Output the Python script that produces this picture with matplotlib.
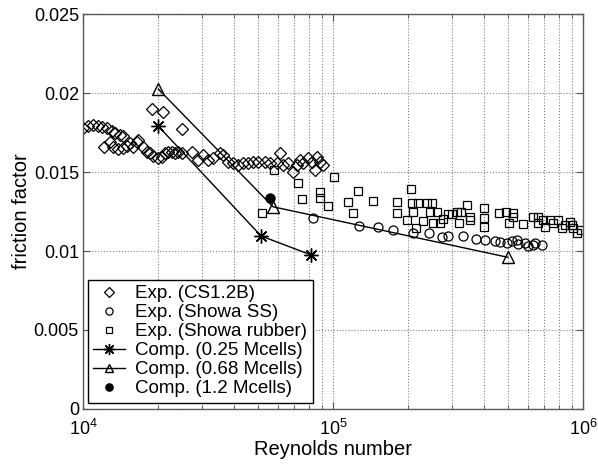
import numpy as np
import matplotlib
matplotlib.use('Agg')
import matplotlib.pyplot as plt
from matplotlib.ticker import FixedLocator, FuncFormatter

plt.rcParams['font.family'] = ['Liberation Sans', 'DejaVu Sans']
plt.rcParams['mathtext.default'] = 'regular'

# Exp. (CS1.2B)
reCS = [1.00e4, 1.047e4, 1.096e4, 1.148e4, 1.19e4, 1.25e4, 1.31e4, 1.34e4, 1.41e4, 1.45e4,
	1.21e4, 1.28e4, 1.32e4, 1.38e4, 1.45e4, 1.50e4, 1.54e4, 1.585e4, 1.64e4, 1.66e4,
	1.74e4, 1.80e4, 1.85e4, 1.905e4, 2.0e4, 2.07e4, 2.13e4, 2.19e4, 2.27e4, 2.33e4,
	2.40e4, 2.49e4, 1.89e4, 2.09e4, 2.49e4,
	2.73e4, 2.88e4, 3.02e4, 3.16e4, 3.31e4, 3.53e4, 3.63e4, 3.80e4, 3.98e4, 4.17e4,
	4.37e4, 4.57e4, 4.79e4, 5.01e4, 5.35e4, 5.60e4, 5.97e4, 6.14e4, 6.31e4, 6.61e4,
	6.92e4, 7.18e4, 7.38e4, 7.59e4, 7.94e4, 8.24e4, 8.47e4, 8.63e4, 8.87e4, 9.12e4]
fCS = [0.01778, 0.01791, 0.01797, 0.01791, 0.01785, 0.01778, 0.0176, 0.01747, 0.01734, 0.01728,
	0.01658, 0.0169, 0.01658, 0.01646, 0.01652, 0.01665, 0.01684, 0.01658, 0.0169, 0.01703,
	0.01658, 0.01627, 0.0162, 0.01601, 0.01589, 0.01595, 0.0162, 0.01627, 0.01627, 0.0162,
	0.01627, 0.0162, 0.0190, 0.0188, 0.01772,
	0.01627, 0.01576, 0.01608, 0.01576, 0.01589, 0.0162, 0.01608, 0.01563, 0.01557, 0.01544,
	0.01557, 0.01557, 0.01563, 0.01563, 0.01563, 0.01557, 0.01557, 0.0162, 0.01544, 0.01557,
	0.015, 0.01544, 0.01576, 0.01557, 0.01589, 0.01563, 0.01513, 0.01595, 0.01563, 0.01544]

# Exp. (Showa SS)
reSS = [8.32e4, 1.27e5, 1.514e5, 1.738e5, 2.09e5, 2.42e5, 2.73e5, 2.88e5, 3.31e5, 3.73e5,
	4.06e5, 4.45e5, 4.66e5, 4.97e5, 5.20e5, 5.45e5, 5.50e5, 5.86e5, 6.03e5, 6.31e5,
	6.43e5, 6.85e5]
fSS = [0.01209, 0.01158, 0.01152, 0.01133, 0.01114, 0.01114, 0.01089, 0.01095, 0.01095, 0.01076,
	0.0107, 0.01063, 0.01057, 0.01051, 0.01063, 0.0107, 0.01044, 0.01051, 0.01032, 0.01038,
	0.01051, 0.01038]

# Exp. (Showa rubber)
reRubber = [5.20e4, 5.81e4, 7.24e4, 7.52e4, 8.87e4, 8.87e4, 9.55e4, 1.009e5, 1.148e5, 1.202e5,
	1.259e5, 1.445e5, 1.80e5, 1.80e5, 1.977e5, 2.05e5, 2.07e5, 2.09e5, 2.19e5, 2.14e5,
	2.29e5, 2.38e5, 2.44e5, 2.49e5, 2.51e5, 2.61e5, 2.68e5, 2.75e5, 2.88e5, 2.99e5,
	3.13e5, 3.25e5, 3.19e5, 3.44e5, 3.53e5, 3.53e5, 4.02e5, 4.02e5, 4.02e5, 4.61e5,
	4.92e5, 5.25e5, 5.25e5, 5.06e5, 5.75e5, 6.31e5, 6.61e5, 6.61e5, 6.92e5, 7.05e5,
	7.38e5, 7.59e5, 7.94e5, 8.24e5, 8.47e5, 8.87e5, 9.04e5, 9.12e5, 9.46e5, 9.82e5]
fRubber = [0.0124, 0.01513, 0.0143, 0.01329, 0.01373, 0.01335, 0.01285, 0.01468, 0.0131, 0.0124,
	0.0138, 0.01316, 0.0131, 0.0124, 0.01196, 0.01392, 0.01304, 0.01247, 0.01304, 0.01146,
	0.0119, 0.01304, 0.01247, 0.01304, 0.01177, 0.01247, 0.01177, 0.01203, 0.01234, 0.01234,
	0.01247, 0.01247, 0.01177, 0.01291, 0.01215, 0.01196, 0.01272, 0.01209, 0.01152, 0.0124,
	0.01247, 0.0124, 0.01215, 0.01177, 0.01171, 0.01215, 0.01215, 0.01177, 0.01196, 0.01152,
	0.01196, 0.01177, 0.01196, 0.01146, 0.01165, 0.01184, 0.01165, 0.01146, 0.01114, 0.01133]

# computations
reComp025 = [2.0e4, 5.15e4, 8.17e4]
fComp025 = [0.0179, 0.01095, 0.00975]
reComp068 = [2.0e4, 5.75e4, 5.01e5]
fComp068 = [0.02025, 0.0128, 0.0096]
reComp12 = [5.6e4]
fComp12 = [0.01335]

fig = plt.figure(figsize=(5.98, 4.69), dpi=100)
ax = fig.add_axes([0.139, 0.128, 0.836, 0.842])

ax.plot(reCS, fCS, linestyle='None', marker='D', markersize=6, markerfacecolor='none',
	markeredgecolor='k', markeredgewidth=0.9, label='Exp. (CS1.2B)')
ax.plot(reSS, fSS, linestyle='None', marker='o', markersize=6.5, markerfacecolor='none',
	markeredgecolor='k', markeredgewidth=0.9, label='Exp. (Showa SS)')
ax.plot(reRubber, fRubber, linestyle='None', marker='s', markersize=5.5, markerfacecolor='none',
	markeredgecolor='k', markeredgewidth=0.9, label='Exp. (Showa rubber)')
ax.plot(reComp025, fComp025, color='k', linewidth=1.0, marker=(8, 2, 0), markersize=10,
	markeredgewidth=1.0, label='Comp. (0.25 Mcells)')
ax.plot(reComp068, fComp068, color='k', linewidth=1.0, marker='^', markersize=8,
	markerfacecolor='none', markeredgewidth=1.0, label='Comp. (0.68 Mcells)')
ax.plot(reComp12, fComp12, linestyle='None', marker='o', markersize=6.5, color='k',
	label='Comp. (1.2 Mcells)')

ax.set_xscale('log')
ax.set_xlim(1e4, 1e6)
ax.set_ylim(0, 0.025)
ax.yaxis.set_major_locator(FixedLocator([0, 0.005, 0.01, 0.015, 0.02, 0.025]))
ax.yaxis.set_major_formatter(FuncFormatter(lambda v, p: '%g' % v))

ax.grid(True, which='both', axis='x', linestyle=':', color='0.5', linewidth=0.8)
ax.grid(True, which='major', axis='y', linestyle=':', color='0.5', linewidth=0.8)
ax.tick_params(which='both', direction='in', top=True, right=True, labelsize=13,
	color='0.3')
ax.tick_params(axis='y', pad=3)
ax.tick_params(axis='x', pad=7)
ax.tick_params(which='major', length=5)
ax.tick_params(which='minor', length=3)
for s in ax.spines.values():
	s.set_color('0.35')
	s.set_linewidth(1.0)

ax.set_xlabel('Reynolds number', fontsize=14.5, labelpad=1)
ax.set_ylabel('friction factor', fontsize=14.5, labelpad=2)

leg = ax.legend(loc='lower left', bbox_to_anchor=(0.009, 0.015), borderaxespad=0,
	fontsize=13.5, markerscale=0.8, handlelength=1.7, handletextpad=0.55,
	labelspacing=0.1, borderpad=0.3, fancybox=False, framealpha=1, edgecolor='k')
leg.get_frame().set_linewidth(1.0)

plt.savefig('out.png', dpi=100)
